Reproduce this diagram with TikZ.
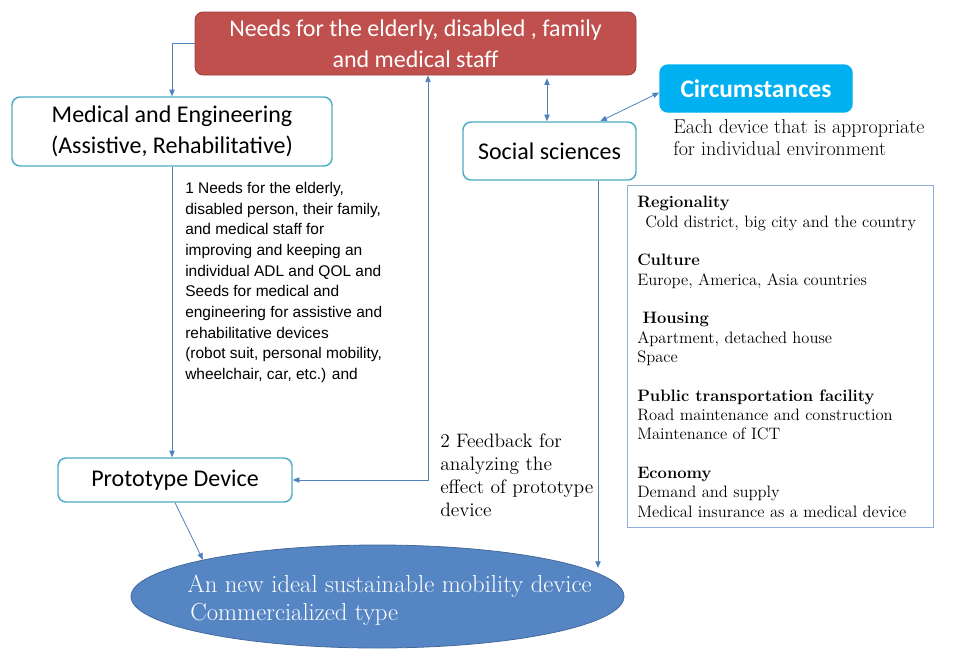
\documentclass[tikz,border=0pt]{standalone}
\usepackage{fontspec}
\usetikzlibrary{shapes.geometric,arrows.meta}
\newfontfamily\boxfont{Carlito}
\newfontfamily\notefont{Liberation Sans}
\definecolor{linkblue}{HTML}{4F81BD}
\definecolor{boxcyan}{HTML}{4BACC6}
\definecolor{needred}{HTML}{C0504D}
\definecolor{circblue}{HTML}{00B0F0}
\definecolor{ellblue}{HTML}{5585C3}
\definecolor{infoline}{HTML}{8EAEDC}
\begin{document}
\begin{tikzpicture}[x=0.75pt,y=-0.75pt,
    link/.style={draw=linkblue,line width=0.6pt,-{Triangle[length=5pt,width=4pt]}},
    both/.style={link,{Triangle[length=5pt,width=4pt]}-{Triangle[length=5pt,width=4pt]}},
    roundbox/.style={draw=boxcyan,line width=1.1pt,rounded corners=6pt,fill=white,
      align=center,inner sep=0pt,font=\boxfont\fontsize{18}{23.5}\selectfont}]
    \useasboundingbox (0,0) rectangle (953,653);
    \node[roundbox,fill=needred,draw=needred!80!black,line width=0.6pt,text=white,
      minimum width=330.75pt,minimum height=47.25pt] (needs) at (415.5,43.5)
      {Needs for the elderly, disabled , family\\and medical staff};
    \node[roundbox,minimum width=240pt,minimum height=51.75pt] (med) at (172,131.5)
      {Medical and Engineering\\(Assistive, Rehabilitative)};
    \node[roundbox,minimum width=129.75pt,minimum height=43.5pt] (social) at (549.5,151)
      {Social sciences};
    \node[roundbox,fill=circblue,draw=circblue,text=white,font=\boxfont\bfseries\fontsize{19}{22}\selectfont,
      minimum width=144pt,minimum height=35.25pt] (circ) at (756,88.5) {Circumstances};
    \node[roundbox,minimum width=175.5pt,minimum height=33pt] (proto) at (175,480)
      {Prototype Device};
    \node[ellipse,fill=ellblue,draw=ellblue!80!black,line width=0.6pt,inner sep=0pt,
      minimum width=369.75pt,minimum height=77.25pt] (ell) at (377.5,596.5) {};
    \node[anchor=west,text=white,align=left,font=\fontsize{18.5}{21}\selectfont] (elltext) at (183,600)
      {An new ideal sustainable mobility device\\\hspace{2pt}Commercialized type};
    \node[anchor=north west,align=left,inner sep=0pt,font=\fontsize{15}{16.5}\selectfont] (each) at (673,119)
      {Each device that is appropriate\\for individual environment};
    \node[draw=infoline,line width=0.6pt,minimum width=229.5pt,minimum height=256.5pt] (info) at (780,356) {};
    \node[anchor=north west,align=left,inner sep=0pt,font=\fontsize{12.4}{14.5}\selectfont] (infotext) at (637,196)
      {\textbf{Regionality}\\
       \hspace{6pt}Cold district, big city and the country\\[14.5pt]
       \textbf{Culture}\\
       Europe, America, Asia countries\\[14.5pt]
       \hspace{4pt}\textbf{Housing}\\
       Apartment, detached house\\
       Space\\[14.5pt]
       \textbf{Public transportation facility}\\
       Road maintenance and construction\\
       Maintenance of ICT\\[14.5pt]
       \textbf{Economy}\\
       Demand and supply\\
       Medical insurance as a medical device};
    \node[anchor=north west,align=left,inner sep=0pt,font=\notefont\fontsize{11.6}{15.5}\selectfont] (note) at (185,182)
      {1 Needs for the elderly,\\
       disabled person, their family,\\
       and medical staff for\\
       improving and keeping an\\
       individual ADL and QOL and\\
       Seeds for medical and\\
       engineering for assistive and\\
       rehabilitative devices\\
       (robot suit, personal mobility,\\
       wheelchair, car, etc.) and};
    \node[anchor=north west,align=left,inner sep=0pt,font=\fontsize{14.6}{17.25}\selectfont] (feedback) at (440,434)
      {2 Feedback for\\analyzing the\\effect of prototype\\device};
    \coordinate (fbturn) at (428,480);
    \coordinate (sdrop) at (598,568);
    \draw[link] (needs.west) -| (med.north);
    \draw[link] (med.south) -- (med.south |- proto.north);
    \draw[both] (proto.east) -- (fbturn) -- (fbturn |- needs.south);
    \draw[both] (social.north -| 547,0) ++(0,-43) -- (social.north -| 547,0);
    \draw[both] ([xshift=38pt]social.north) -- ([yshift=-3pt]circ.west);
    \draw[link] (sdrop |- social.south) -- (sdrop);
    \draw[link] (proto.south) -- (ell.north west);
\end{tikzpicture}
\end{document}
